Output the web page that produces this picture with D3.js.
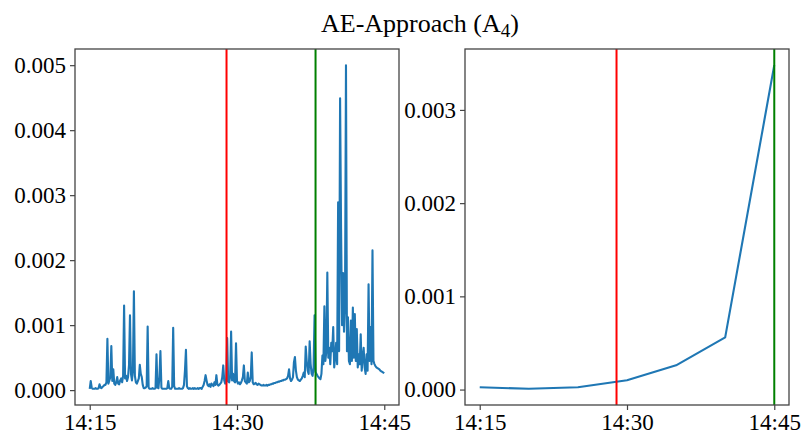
<!DOCTYPE html>
<html>
<head>
<meta charset="utf-8">
<script src="https://cdn.jsdelivr.net/npm/d3@7"></script>
<style>
  body { margin: 0; background: #fff; }
  svg text { font-family: "Liberation Serif", "Times New Roman", serif; fill: #000; }
</style>
</head>
<body>
<div id="canvas"></div>
<script>
// anomaly score sampled every 6 s from 14:15:00 to 14:45:00, in units of 1e-5
var fineStart = "14:15:00";
var fineStepSec = 6;
var fineScoreE5 = [
  2, 14, 4, 2, 2, 2, 3, 2, 2, 3,
  9, 4, 3, 5, 6, 8, 8, 12, 79, 10,
  15, 20, 68, 14, 32, 10, 8, 12, 20, 10,
  9, 15, 18, 12, 22, 130, 18, 22, 14, 20,
  38, 115, 25, 15, 30, 152, 22, 12, 10, 14,
  18, 39, 25, 20, 8, 3, 3, 4, 6, 98,
  4, 2, 2, 2, 3, 2, 2, 3, 55, 4,
  3, 20, 60, 4, 2, 2, 2, 2, 2, 3,
  14, 3, 2, 2, 5, 96, 6, 2, 2, 2,
  2, 3, 2, 2, 2, 3, 8, 30, 62, 6,
  3, 2, 3, 2, 2, 3, 2, 3, 2, 2,
  3, 2, 3, 3, 2, 5, 8, 14, 23, 15,
  8, 6, 9, 5, 10, 8, 6, 12, 8, 23,
  9, 7, 8, 10, 12, 20, 38, 15, 10, 12,
  80, 14, 12, 20, 90, 15, 25, 14, 12, 72,
  14, 10, 12, 9, 11, 15, 20, 38, 14, 12,
  10, 27, 12, 14, 20, 58, 12, 9, 10, 11,
  9, 8, 10, 9, 8, 7, 7, 8, 7, 7,
  8, 7, 8, 8, 9, 9, 10, 10, 11, 11,
  12, 12, 13, 13, 14, 14, 15, 15, 16, 16,
  17, 18, 22, 32, 18, 14, 16, 20, 43, 51,
  30, 20, 16, 15, 14, 16, 18, 22, 27, 20,
  67, 45, 30, 25, 75, 40, 25, 22, 35, 115,
  28, 25, 22, 20, 18, 17, 25, 53, 40, 129,
  45, 60, 181, 50, 65, 40, 73, 60, 97, 35,
  50, 73, 40, 289, 60, 449, 248, 100, 180, 90,
  130, 500, 60, 112, 45, 40, 107, 45, 127, 50,
  117, 45, 94, 35, 55, 40, 86, 30, 50, 65,
  35, 25, 55, 30, 163, 45, 97, 40, 215, 45,
  40, 37, 35, 34, 33, 32, 30, 29, 28, 27, 26
];

// 5-minute aggregated score
var coarseTimes = ["14:15", "14:20", "14:25", "14:30", "14:35", "14:40", "14:45"];
var coarseScore = [0.000025, 0.000008, 0.000025, 0.0001, 0.00026, 0.00056, 0.00348];

var redMark = "14:28:56";
var greenMarkLeft = "14:38:00";
var greenMarkRight = "14:45:00";

var xTickLabels = ["14:15", "14:30", "14:45"];
var leftYTicks = [0, 0.001, 0.002, 0.003, 0.004, 0.005];
var rightYTicks = [0, 0.001, 0.002, 0.003];

function toDate(s) {
    var p = s.split(":");
    return new Date(2021, 0, 1, +p[0], +p[1], p[2] ? +p[2] : 0);
}

var W = 803, H = 441;
var svg = d3.select("#canvas").append("svg")
    .attr("width", W).attr("height", H);

// title with subscript
var title = svg.append("text")
    .attr("x", 420).attr("y", 32)
    .attr("text-anchor", "middle")
    .style("font-size", "26px");
title.append("tspan").text("AE-Approach (A");
title.append("tspan").attr("dy", 5).style("font-size", "19px").text("4");
title.append("tspan").attr("dy", -5).text(")");

// padded extent like matplotlib autoscale
function padded(ext) {
    var r = ext[1] - ext[0];
    return [ext[0] - 0.05 * r, ext[1] + 0.05 * r];
}
function paddedTime(ext) {
    var a = +ext[0], b = +ext[1], r = b - a;
    return [new Date(a - 0.05 * r), new Date(b + 0.05 * r)];
}

function drawPanel(box, data, yTicks, greenMark) {
    var g = svg.append("g");
    var x = d3.scaleTime()
        .domain(paddedTime(d3.extent(data, function(d) { return d.t; })))
        .range([box.x0, box.x1]);
    var y = d3.scaleLinear()
        .domain(padded(d3.extent(data, function(d) { return d.v; })))
        .range([box.y1, box.y0]);

    var clipId = "clip" + box.x0;
    g.append("clipPath").attr("id", clipId)
        .append("rect")
        .attr("x", box.x0).attr("y", box.y0)
        .attr("width", box.x1 - box.x0).attr("height", box.y1 - box.y0);

    var line = d3.line()
        .x(function(d) { return x(d.t); })
        .y(function(d) { return y(d.v); });

    g.append("path")
        .datum(data)
        .attr("clip-path", "url(#" + clipId + ")")
        .attr("d", line)
        .attr("fill", "none")
        .attr("stroke", "#1f77b4")
        .attr("stroke-width", 2.1)
        .attr("stroke-linejoin", "round");

    // vertical markers
    [[redMark, "#ff0000"], [greenMark, "#008000"]].forEach(function(m) {
        g.append("line")
            .attr("x1", x(toDate(m[0]))).attr("x2", x(toDate(m[0])))
            .attr("y1", box.y0).attr("y2", box.y1)
            .attr("stroke", m[1])
            .attr("stroke-width", 2);
    });

    // axes
    var xAxis = d3.axisBottom(x)
        .tickValues(xTickLabels.map(toDate))
        .tickFormat(d3.timeFormat("%H:%M"))
        .tickSize(5).tickPadding(4);
    var yAxis = d3.axisLeft(y)
        .tickValues(yTicks)
        .tickFormat(d3.format(".3f"))
        .tickSize(5).tickPadding(4);

    var gx = g.append("g")
        .attr("transform", "translate(0," + box.y1 + ")")
        .call(xAxis);
    var gy = g.append("g")
        .attr("transform", "translate(" + box.x0 + ",0)")
        .call(yAxis);
    [gx, gy].forEach(function(a) {
        a.select(".domain").remove();
        a.selectAll(".tick line").attr("stroke", "#444").attr("stroke-width", 1.2);
        a.selectAll("text").style("font-size", "23px").attr("fill", "#000");
    });

    g.append("rect")
        .attr("x", box.x0).attr("y", box.y0)
        .attr("width", box.x1 - box.x0).attr("height", box.y1 - box.y0)
        .attr("fill", "none")
        .attr("stroke", "#444")
        .attr("stroke-width", 1.3);
}

var t0 = toDate(fineStart);
var fineData = fineScoreE5.map(function(v, i) {
    return { t: new Date(+t0 + i * fineStepSec * 1000), v: v * 1e-5 };
});
var coarseData = coarseTimes.map(function(s, i) {
    return { t: toDate(s), v: coarseScore[i] };
});

drawPanel({x0: 75, x1: 399, y0: 49, y1: 405}, fineData, leftYTicks, greenMarkLeft);
drawPanel({x0: 465, x1: 789, y0: 49, y1: 405}, coarseData, rightYTicks, greenMarkRight);
</script>
</body>
</html>
